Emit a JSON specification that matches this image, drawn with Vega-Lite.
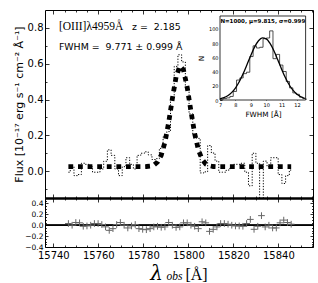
{
  "$schema": "https://vega.github.io/schema/vega-lite/v6.json",
  "padding": {"left": 12, "top": 9, "right": 7, "bottom": 1},
  "autosize": {"type": "pad"},
  "spacing": 0,
  "bounds": "flush",
  "config": {
    "view": {"stroke": "#000", "strokeWidth": 1},
    "axis": {"labelColor": "#000", "titleColor": "#000", "tickColor": "#000", "domainColor": "#000", "grid": false, "labelFont": "DejaVu Sans", "titleFont": "DejaVu Sans", "titleFontWeight": "normal", "zindex": 1, "tickWidth": 0.8},
    "text": {"font": "DejaVu Sans", "color": "#000"}
  },
  "datasets": {
    "spec": [
      {"w":15746.70,"flux":-0.006,"model":0.025,"resid":0.031},
      {"w":15748.35,"flux":0.025,"model":0.025,"resid":0.0},
      {"w":15750.00,"flux":-0.025,"model":0.025,"resid":0.05},
      {"w":15751.65,"flux":-0.019,"model":0.025,"resid":0.044},
      {"w":15753.30,"flux":0.044,"model":0.025,"resid":-0.019},
      {"w":15754.95,"flux":0.038,"model":0.025,"resid":-0.013},
      {"w":15756.60,"flux":0.025,"model":0.025,"resid":0.0},
      {"w":15758.25,"flux":-0.006,"model":0.025,"resid":0.031},
      {"w":15759.90,"flux":-0.006,"model":0.025,"resid":0.031},
      {"w":15761.55,"flux":0.012,"model":0.025,"resid":0.013},
      {"w":15763.20,"flux":0.055,"model":0.025,"resid":-0.03},
      {"w":15764.85,"flux":0.119,"model":0.025,"resid":-0.094},
      {"w":15766.50,"flux":0.088,"model":0.025,"resid":-0.063},
      {"w":15768.15,"flux":0.012,"model":0.025,"resid":0.013},
      {"w":15769.80,"flux":-0.025,"model":0.025,"resid":0.05},
      {"w":15771.45,"flux":0.025,"model":0.025,"resid":0.0},
      {"w":15773.10,"flux":0.075,"model":0.025,"resid":-0.05},
      {"w":15774.75,"flux":0.038,"model":0.025,"resid":-0.013},
      {"w":15776.40,"flux":0.012,"model":0.025,"resid":0.013},
      {"w":15778.05,"flux":0.088,"model":0.025,"resid":-0.063},
      {"w":15779.70,"flux":0.1,"model":0.025,"resid":-0.075},
      {"w":15781.35,"flux":0.108,"model":0.026,"resid":-0.082},
      {"w":15783.00,"flux":0.091,"model":0.028,"resid":-0.063},
      {"w":15784.65,"flux":0.065,"model":0.034,"resid":-0.031},
      {"w":15786.30,"flux":0.07,"model":0.051,"resid":-0.019},
      {"w":15787.95,"flux":0.127,"model":0.089,"resid":-0.038},
      {"w":15789.60,"flux":0.192,"model":0.161,"resid":-0.031},
      {"w":15791.25,"flux":0.221,"model":0.271,"resid":0.05},
      {"w":15792.90,"flux":0.405,"model":0.405,"resid":0.0},
      {"w":15794.55,"flux":0.585,"model":0.525,"resid":-0.04},
      {"w":15796.20,"flux":0.65,"model":0.587,"resid":-0.031},
      {"w":15797.85,"flux":0.61,"model":0.565,"resid":0.044},
      {"w":15799.50,"flux":0.46,"model":0.468,"resid":0.044},
      {"w":15801.15,"flux":0.32,"model":0.335,"resid":0.0},
      {"w":15802.80,"flux":0.2,"model":0.21,"resid":-0.019},
      {"w":15804.45,"flux":0.183,"model":0.12,"resid":-0.063},
      {"w":15806.10,"flux":-0.01,"model":0.066,"resid":0.063},
      {"w":15807.75,"flux":-0.004,"model":0.04,"resid":0.044},
      {"w":15809.40,"flux":0.143,"model":0.03,"resid":-0.113},
      {"w":15811.05,"flux":0.101,"model":0.026,"resid":-0.075},
      {"w":15812.70,"flux":0.056,"model":0.025,"resid":-0.031},
      {"w":15814.35,"flux":-0.006,"model":0.025,"resid":0.031},
      {"w":15816.00,"flux":-0.006,"model":0.025,"resid":0.031},
      {"w":15817.65,"flux":0.006,"model":0.025,"resid":0.019},
      {"w":15819.30,"flux":0.025,"model":0.025,"resid":0.0},
      {"w":15820.95,"flux":0.038,"model":0.025,"resid":-0.013},
      {"w":15822.60,"flux":0.038,"model":0.025,"resid":-0.013},
      {"w":15824.25,"flux":0.044,"model":0.025,"resid":-0.019},
      {"w":15825.90,"flux":-0.006,"model":0.025,"resid":0.031},
      {"w":15827.55,"flux":-0.082,"model":0.025,"resid":0.107},
      {"w":15829.20,"flux":0.1,"model":0.025,"resid":-0.075},
      {"w":15830.85,"flux":0.044,"model":0.025,"resid":-0.019},
      {"w":15832.50,"flux":-0.2,"model":0.025,"resid":0.176},
      {"w":15834.15,"flux":0.056,"model":0.025,"resid":-0.031},
      {"w":15835.80,"flux":0.025,"model":0.025,"resid":0.0},
      {"w":15837.45,"flux":0.075,"model":0.025,"resid":-0.05},
      {"w":15839.10,"flux":0.075,"model":0.025,"resid":-0.05},
      {"w":15840.75,"flux":-0.019,"model":0.025,"resid":0.044},
      {"w":15842.40,"flux":-0.069,"model":0.025,"resid":0.094},
      {"w":15844.05,"flux":-0.025,"model":0.025,"resid":0.05},
      {"w":15845.70,"flux":0.006,"model":0.025,"resid":0.019}
    ],
    "hist": [
      {"bin":7.0,"n":1},{"bin":7.215,"n":2},{"bin":7.43,"n":3},{"bin":7.645,"n":5},
      {"bin":7.86,"n":12},{"bin":8.075,"n":28},{"bin":8.29,"n":31},{"bin":8.505,"n":37},
      {"bin":8.72,"n":39},{"bin":8.935,"n":61},{"bin":9.15,"n":76},{"bin":9.365,"n":73},
      {"bin":9.58,"n":74},{"bin":9.795,"n":86},{"bin":10.01,"n":87},{"bin":10.225,"n":97},
      {"bin":10.44,"n":58},{"bin":10.655,"n":64},{"bin":10.87,"n":49},{"bin":11.085,"n":40},
      {"bin":11.3,"n":26},{"bin":11.515,"n":17},{"bin":11.73,"n":10},{"bin":11.945,"n":8},
      {"bin":12.16,"n":4},{"bin":12.375,"n":2},{"bin":12.59,"n":0}
    ],
    "gauss": [
      {"g":7.0,"gn":1.65},{"g":7.25,"gn":3.2},{"g":7.5,"gn":5.96},{"g":7.75,"gn":10.3},
      {"g":8.0,"gn":16.8},{"g":8.25,"gn":25.6},{"g":8.5,"gn":36.8},{"g":8.75,"gn":49.5},
      {"g":9.0,"gn":62.6},{"g":9.25,"gn":74.5},{"g":9.5,"gn":83.2},{"g":9.75,"gn":87.2},
      {"g":10.0,"gn":85.9},{"g":10.25,"gn":79.5},{"g":10.5,"gn":69.1},{"g":10.75,"gn":56.4},
      {"g":11.0,"gn":43.3},{"g":11.25,"gn":31.2},{"g":11.5,"gn":21.1},{"g":11.75,"gn":13.4},
      {"g":12.0,"gn":8.0},{"g":12.25,"gn":4.5},{"g":12.5,"gn":2.4}
    ]
  },
  "vconcat": [
    {
      "width": 268,
      "height": 188,
      "layer": [
        {
          "layer": [
            {
              "data": {"name": "spec"},
              "mark": {"type": "line", "interpolate": "step", "color": "#000", "strokeWidth": 1, "strokeDash": [1.2, 1.6], "clip": true},
              "encoding": {
                "x": {"field": "w", "type": "quantitative", "scale": {"domain": [15736.3, 15855.4], "nice": false, "zero": false},
                  "axis": {"orient": "bottom", "labels": false, "title": null, "tickSize": -4, "domain": true, "domainWidth": 2.5, "values": [15740, 15760, 15780, 15800, 15820, 15840]}},
                "y": {"field": "flux", "type": "quantitative", "scale": {"domain": [-0.15, 0.9], "nice": false, "zero": false},
                  "axis": {"orient": "left", "values": [0, 0.2, 0.4, 0.6, 0.8], "format": ".1f", "labelFontSize": 10, "tickSize": -4, "labelPadding": 6, "domain": false, "title": "Flux [10⁻¹⁷ erg s⁻¹ cm⁻² Å⁻¹]", "titleFontSize": 11, "titlePadding": 3}}
              }
            },
            {
              "data": {"name": "spec"},
              "mark": {"type": "line", "color": "#000", "strokeWidth": 4.8, "strokeDash": [4.8, 4.8], "strokeCap": "butt"},
              "encoding": {
                "x": {"field": "w", "type": "quantitative", "scale": {"domain": [15736.3, 15855.4], "nice": false, "zero": false},
                  "axis": {"orient": "top", "labels": false, "title": null, "tickSize": -4, "domain": false, "values": [15740, 15760, 15780, 15800, 15820, 15840]}},
                "y": {"field": "model", "type": "quantitative", "scale": {"domain": [-0.15, 0.9], "nice": false, "zero": false},
                  "axis": {"orient": "right", "labels": false, "title": null, "tickSize": -4, "domain": false, "values": [0, 0.2, 0.4, 0.6, 0.8]}}
              }
            },
            {
              "data": {"values": [{}]},
              "mark": {"type": "text", "text": "[OIII]λ4959Å", "font": "Liberation Serif", "fontSize": 11.5, "align": "left", "baseline": "alphabetic"},
              "encoding": {
                "x": {"datum": 15742.5, "type": "quantitative",
                  "axis": {"orient": "bottom", "labels": false, "title": null, "tickSize": -2, "domain": false, "values": [15745, 15750, 15755, 15765, 15770, 15775, 15785, 15790, 15795, 15805, 15810, 15815, 15825, 15830, 15835, 15845, 15850, 15855]}},
                "y": {"datum": 0.79, "type": "quantitative",
                  "axis": {"orient": "left", "labels": false, "title": null, "tickSize": -2, "domain": false, "values": [-0.1, 0.1, 0.3, 0.5, 0.7]}}
              }
            },
            {
              "data": {"values": [{}]},
              "mark": {"type": "text", "text": "z = \u00a02.185", "fontSize": 9.4, "align": "left", "baseline": "alphabetic"},
              "encoding": {
                "x": {"datum": 15775.0, "type": "quantitative",
                  "axis": {"orient": "top", "labels": false, "title": null, "tickSize": -2, "domain": false, "values": [15745, 15750, 15755, 15765, 15770, 15775, 15785, 15790, 15795, 15805, 15810, 15815, 15825, 15830, 15835, 15845, 15850, 15855]}},
                "y": {"datum": 0.79, "type": "quantitative",
                  "axis": {"orient": "right", "labels": false, "title": null, "tickSize": -2, "domain": false, "values": [-0.1, 0.1, 0.3, 0.5, 0.7]}}
              }
            },
            {
              "data": {"values": [{}]},
              "mark": {"type": "text", "text": "FWHM = \u00a09.771 ± 0.999 Å", "fontSize": 9.4, "align": "left", "baseline": "alphabetic"},
              "encoding": {
                "x": {"datum": 15742.5, "type": "quantitative", "axis": null},
                "y": {"datum": 0.677, "type": "quantitative", "axis": null}
              }
            }
          ],
          "resolve": {"axis": {"x": "independent", "y": "independent"}}
        },
        {
          "layer": [
            {
              "data": {"values": [{}]},
              "mark": {"type": "rect", "fill": "#fff", "stroke": "#000", "strokeWidth": 0.8},
              "encoding": {
                "x": {"datum": 7, "type": "quantitative", "scale": {"domain": [-4.364, 13.039], "nice": false, "zero": false},
                  "axis": {"orient": "bottom", "offset": -98, "values": [7, 8, 9, 10, 11, 12], "labelFontSize": 5, "tickSize": -2, "labelPadding": 4, "domain": false, "title": "FWHM [Å]", "titleFontSize": 7.3, "titleX": 218, "titleY": 16, "titleAlign": "center", "titleBaseline": "alphabetic"}},
                "x2": {"datum": 12.56},
                "y": {"datum": 0, "type": "quantitative", "scale": {"domain": [-137.54, 126.32], "nice": false, "zero": false},
                  "axis": {"orient": "left", "offset": -175, "values": [0, 20, 40, 60, 80, 100], "labelFontSize": 5, "tickSize": -2, "labelPadding": 4, "domain": false, "title": "N", "titleFontSize": 7.3, "titleX": -15, "titleY": 48, "titleAlign": "center", "titleBaseline": "bottom"}},
                "y2": {"datum": 117.9}
              }
            },
            {
              "data": {"name": "hist"},
              "mark": {"type": "line", "interpolate": "step-after", "color": "#222", "strokeWidth": 0.8},
              "encoding": {
                "x": {"field": "bin", "type": "quantitative", "axis": null},
                "y": {"field": "n", "type": "quantitative", "axis": null}
              }
            },
            {
              "data": {"name": "gauss"},
              "mark": {"type": "line", "interpolate": "monotone", "color": "#000", "strokeWidth": 1.3},
              "encoding": {
                "x": {"field": "g", "type": "quantitative", "axis": null},
                "y": {"field": "gn", "type": "quantitative", "axis": null}
              }
            },
            {
              "data": {"values": [{}]},
              "mark": {"type": "text", "text": "N=1000, μ=9.815, σ=0.999", "fontSize": 5.5, "fontWeight": "bold", "align": "center", "baseline": "middle"},
              "encoding": {
                "x": {"datum": 9.78, "type": "quantitative", "axis": null},
                "y": {"datum": 111, "type": "quantitative", "axis": null}
              }
            }
          ],
          "resolve": {"axis": {"x": "independent", "y": "independent"}}
        }
      ],
      "resolve": {"scale": {"x": "independent", "y": "independent"}}
    },
    {
      "width": 268,
      "height": 49,
      "layer": [
        {
          "data": {"values": [{}]},
          "mark": {"type": "rule", "color": "#000", "strokeWidth": 1.2},
          "encoding": {
            "x": {"datum": 15736.3, "type": "quantitative", "scale": {"domain": [15736.3, 15855.4], "nice": false, "zero": false},
              "axis": {"orient": "top", "labels": false, "tickSize": -4, "domain": false, "values": [15740, 15760, 15780, 15800, 15820, 15840],
                "title": "λ", "titleFont": "DejaVu Serif", "titleFontStyle": "italic", "titleFontSize": 20, "titleX": 111, "titleY": 81, "titleAlign": "center", "titleBaseline": "alphabetic"}},
            "x2": {"datum": 15855.4},
            "y": {"datum": 0, "type": "quantitative", "scale": {"domain": [-0.4, 0.5], "nice": false, "zero": false},
              "axis": {"orient": "left", "values": [-0.4, -0.2, 0, 0.2, 0.4], "format": ".1f", "labelFontSize": 7.5, "tickSize": -3, "labelPadding": 5, "domain": false, "title": null}}
          }
        },
        {
          "data": {"values": [{}]},
          "mark": {"type": "rule", "color": "#000", "strokeWidth": 1.2},
          "encoding": {
            "x": {"datum": 15736.3, "type": "quantitative", "scale": {"domain": [15736.3, 15855.4], "nice": false, "zero": false},
              "axis": {"orient": "top", "labels": false, "title": null, "tickSize": -2, "domain": false, "values": [15745, 15750, 15755, 15765, 15770, 15775, 15785, 15790, 15795, 15805, 15810, 15815, 15825, 15830, 15835, 15845, 15850, 15855]}},
            "x2": {"datum": 15855.4},
            "y": {"datum": 0, "type": "quantitative", "scale": {"domain": [-0.4, 0.5], "nice": false, "zero": false},
              "axis": {"orient": "left", "labels": false, "title": null, "tickSize": -1.5, "domain": false, "values": [-0.35, -0.3, -0.25, -0.15, -0.1, -0.05, 0.05, 0.1, 0.15, 0.25, 0.3, 0.35, 0.45]}}
          }
        },
        {
          "data": {"values": [{}]},
          "mark": {"type": "rule", "color": "#000", "strokeWidth": 1.2},
          "encoding": {
            "x": {"datum": 15736.3, "type": "quantitative", "scale": {"domain": [15736.3, 15855.4], "nice": false, "zero": false},
              "axis": {"orient": "bottom", "labels": false, "title": null, "tickSize": -2, "domain": false, "values": [15745, 15750, 15755, 15765, 15770, 15775, 15785, 15790, 15795, 15805, 15810, 15815, 15825, 15830, 15835, 15845, 15850, 15855]}},
            "x2": {"datum": 15855.4},
            "y": {"datum": 0, "type": "quantitative", "scale": {"domain": [-0.4, 0.5], "nice": false, "zero": false},
              "axis": {"orient": "right", "labels": false, "title": null, "tickSize": -1.5, "domain": false, "values": [-0.35, -0.3, -0.25, -0.15, -0.1, -0.05, 0.05, 0.1, 0.15, 0.25, 0.3, 0.35, 0.45]}}
          }
        },
        {
          "data": {"name": "spec"},
          "mark": {"type": "point", "shape": "M-1,0L1,0M0,-1L0,1", "size": 45, "filled": false, "color": "#666", "strokeWidth": 1, "opacity": 1},
          "encoding": {
            "x": {"field": "w", "type": "quantitative", "scale": {"domain": [15736.3, 15855.4], "nice": false, "zero": false},
              "axis": {"orient": "bottom", "values": [15740, 15760, 15780, 15800, 15820, 15840], "format": "d", "labelFontSize": 10, "tickSize": -4, "labelPadding": 7, "domain": false,
                "title": "[Å]", "titleFont": "Liberation Serif", "titleFontSize": 16, "titleX": 151, "titleY": 32, "titleAlign": "center", "titleBaseline": "alphabetic"}},
            "y": {"field": "resid", "type": "quantitative", "scale": {"domain": [-0.4, 0.5], "nice": false, "zero": false},
              "axis": {"orient": "right", "labels": false, "tickSize": -3, "domain": false, "values": [-0.4, -0.2, 0, 0.2, 0.4],
                "title": "obs", "titleFont": "Liberation Serif", "titleFontStyle": "italic", "titleFontSize": 11.5, "titleAngle": 0, "titleX": -139, "titleY": 81, "titleAlign": "center", "titleBaseline": "alphabetic"}}
          }
        }
      ],
      "resolve": {"axis": {"x": "independent", "y": "independent"}}
    }
  ]
}
